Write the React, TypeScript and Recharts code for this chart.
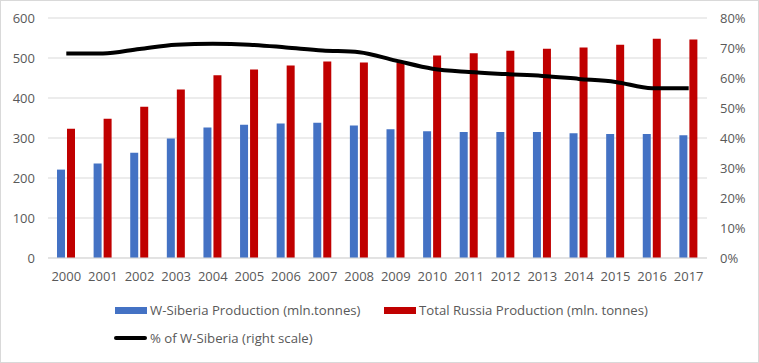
import React from "react";
import { ComposedChart, Bar, Line, XAxis, YAxis, CartesianGrid } from "recharts";

const years = ["2000","2001","2002","2003","2004","2005","2006","2007","2008","2009","2010","2011","2012","2013","2014","2015","2016","2017"];
const wSiberia = [221,236,263,299,326,333,336,338,331,322,317,315,315,315,312,310,310,307];
const totalRussia = [323,348,378,421,457,471,481,491,489,488,506,512,518,523,526,533,548,546];
const pctWSiberia = [68.2,68.2,69.7,71.1,71.4,71.1,70.2,69.2,68.6,65.8,63.1,62.0,61.3,60.7,59.7,58.7,56.6,56.6];
const leftTicks = [0,100,200,300,400,500,600];
const rightTicks = [0,10,20,30,40,50,60,70,80];

const data = years.map((y, i) => ({ year: y, w: wSiberia[i], t: totalRussia[i], p: pctWSiberia[i] }));

const FONT = "'Open Sans', 'Liberation Sans', sans-serif";
const tickStyle = { fontSize: 13, fill: "#595959", fontFamily: FONT };

const legendItem = (left: number, top: number, color: string, h: number, label: string, swW: number) => (
  <div style={{ position: "absolute", left, top, height: 18, display: "flex", alignItems: "center", whiteSpace: "nowrap" }}>
    <span style={{ display: "inline-block", flexShrink: 0, width: swW, height: h, background: color, marginRight: 3, borderRadius: h === 4 ? 2 : 0 }} />
    <span>{label}</span>
  </div>
);

export default function App() {
  return (
    <div style={{ position: "absolute", left: 0, top: 0, width: 759, height: 363, background: "#fff" }}>
      <div style={{ position: "absolute", left: 0, top: 0, width: 757, height: 361, border: "1px solid #d9d9d9" }} />
      <ComposedChart width={759} height={363} data={data} margin={{ top: 18, right: 0, bottom: 75, left: 0 }} barSize={8} barGap={2}>
        <CartesianGrid vertical={false} stroke="#d9d9d9" yAxisId="left" />
        <XAxis dataKey="year" axisLine={{ stroke: "#d9d9d9" }} tickLine={false} tick={tickStyle} tickMargin={8} height={30} interval={0} />
        <YAxis yAxisId="left" domain={[0, 600]} ticks={leftTicks} axisLine={false} tickLine={false} tick={tickStyle} tickMargin={7} width={48} />
        <YAxis yAxisId="right" orientation="right" domain={[0, 80]} ticks={rightTicks} tickFormatter={(v) => `${v}%`} axisLine={false} tickLine={false} tick={tickStyle} tickMargin={7} width={52} />
        <Bar yAxisId="left" dataKey="w" name="W-Siberia Production (mln.tonnes)" fill="#4472C4" isAnimationActive={false} />
        <Bar yAxisId="left" dataKey="t" name="Total Russia Production (mln. tonnes)" fill="#C00000" isAnimationActive={false} />
        <Line yAxisId="right" dataKey="p" name="% of W-Siberia (right scale)" type="monotone" stroke="#000" strokeWidth={4} dot={false} isAnimationActive={false} />
      </ComposedChart>
      <div style={{ position: "absolute", left: 0, top: 0, fontFamily: FONT, fontSize: 13.2, color: "#595959", lineHeight: "18px" }}>
        {legendItem(115, 301, "#4472C4", 7, "W-Siberia Production (mln.tonnes)", 32)}
        {legendItem(384, 301, "#C00000", 7, "Total Russia Production (mln. tonnes)", 32)}
        {legendItem(114, 329, "#000", 4, "% of W-Siberia (right scale)", 33)}
      </div>
    </div>
  );
}
